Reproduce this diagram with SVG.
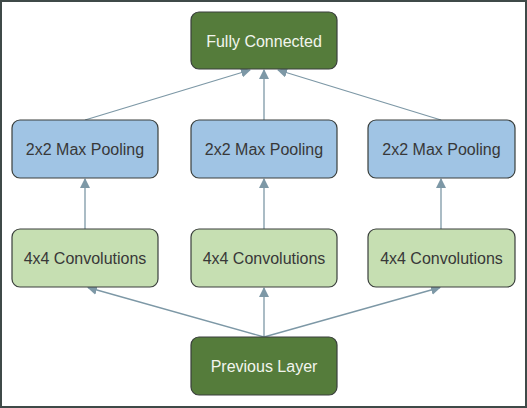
<svg xmlns="http://www.w3.org/2000/svg" width="527" height="408" viewBox="0 0 527 408">
<defs>
<style>
.box{stroke:#3a3f3c;stroke-width:1.2}
.dark{fill:#557c3b}
.blue{fill:#a0c4e4}
.light{fill:#c6dfb2}
text{font-family:"Liberation Sans",Arial,sans-serif;font-size:16px;text-anchor:middle;dominant-baseline:central}
.tw{fill:#f2f5ee}
.tk{fill:#383838}
.conn line{stroke:#7d98a6;stroke-width:1.3;fill:none}
</style>
<marker id="ah" viewBox="0 0 10 10" refX="9" refY="5" markerWidth="10" markerHeight="10" markerUnits="userSpaceOnUse" orient="auto">
<path d="M0,0 L10,5 L0,10 z" fill="#7d98a6"/>
</marker>
</defs>
<rect x="0" y="0" width="527" height="408" fill="#ffffff"/>
<rect x="1" y="1" width="525" height="406" fill="none" stroke="#3f4a48" stroke-width="2"/>
<g class="conn">
<line x1="264" y1="337" x2="264" y2="288" marker-end="url(#ah)"/>
<line x1="264" y1="337" x2="88" y2="287.5" marker-end="url(#ah)"/>
<line x1="264" y1="337" x2="440" y2="287.5" marker-end="url(#ah)"/>
<line x1="85" y1="229" x2="85" y2="179" marker-end="url(#ah)"/>
<line x1="264" y1="229" x2="264" y2="179" marker-end="url(#ah)"/>
<line x1="441" y1="229" x2="441" y2="179" marker-end="url(#ah)"/>
<line x1="85" y1="120" x2="250" y2="70" marker-end="url(#ah)"/>
<line x1="264" y1="120" x2="264" y2="70" marker-end="url(#ah)"/>
<line x1="441" y1="120" x2="278" y2="70" marker-end="url(#ah)"/>
</g>
<g id="fully-connected">
<rect class="box dark" x="191" y="12" width="146" height="57" rx="8"/>
<text class="tw" x="264" y="41">Fully Connected</text>
</g>
<g id="pool-left">
<rect class="box blue" x="12" y="120" width="146" height="58" rx="8"/>
<text class="tk" x="85" y="149">2x2 Max Pooling</text>
</g>
<g id="pool-mid">
<rect class="box blue" x="191" y="120" width="146" height="58" rx="8"/>
<text class="tk" x="264" y="149">2x2 Max Pooling</text>
</g>
<g id="pool-right">
<rect class="box blue" x="368" y="120" width="147" height="58" rx="8"/>
<text class="tk" x="441.5" y="149">2x2 Max Pooling</text>
</g>
<g id="conv-left">
<rect class="box light" x="12" y="229" width="146" height="58" rx="8"/>
<text class="tk" x="85" y="258">4x4 Convolutions</text>
</g>
<g id="conv-mid">
<rect class="box light" x="191" y="229" width="146" height="58" rx="8"/>
<text class="tk" x="264" y="258">4x4 Convolutions</text>
</g>
<g id="conv-right">
<rect class="box light" x="368" y="229" width="147" height="58" rx="8"/>
<text class="tk" x="441.5" y="258">4x4 Convolutions</text>
</g>
<g id="previous-layer">
<rect class="box dark" x="191" y="337" width="146" height="58" rx="8"/>
<text class="tw" x="264" y="366">Previous Layer</text>
</g>
</svg>
